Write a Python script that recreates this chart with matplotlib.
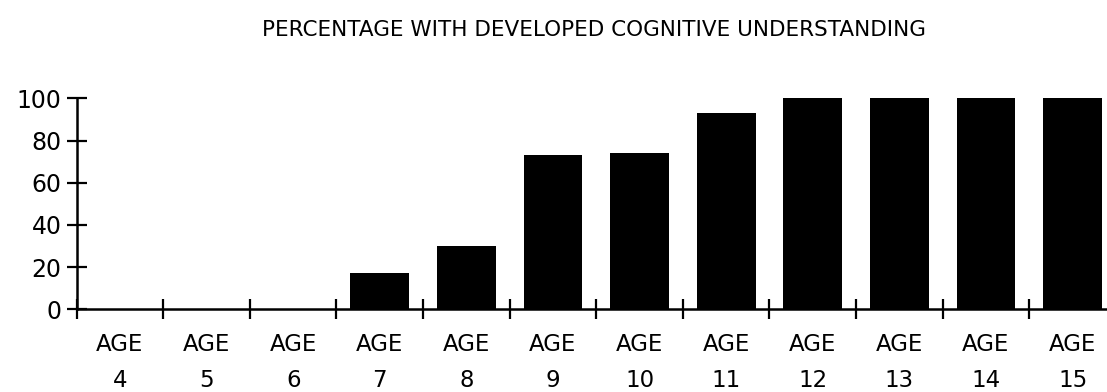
import matplotlib
matplotlib.use("Agg")
import matplotlib.pyplot as plt

ages = ["4", "5", "6", "7", "8", "9", "10", "11", "12", "13", "14", "15"]
percent = [0, 0, 0, 17, 30, 73, 74, 93, 100, 100, 100, 100]
yticks = [0, 20, 40, 60, 80, 100]
title = "PERCENTAGE WITH DEVELOPED COGNITIVE UNDERSTANDING"

plt.rcParams["font.family"] = ["DejaVu Sans"]

fig = plt.figure(figsize=(11.07, 3.92), dpi=100)
ax = fig.add_axes([76.7 / 1107, 82.7 / 392, 12 * 86.6 / 1107, 211 / 392])

x = list(range(len(ages)))
ax.bar(x, percent, width=0.68, color="black", zorder=3)

ax.set_xlim(-0.5, len(ages) - 0.5)
ax.set_ylim(0, 100)
for s in ["top", "right"]:
    ax.spines[s].set_visible(False)
for s in ["left", "bottom"]:
    ax.spines[s].set_linewidth(1.8)
    ax.spines[s].set_clip_on(False)

ax.set_yticks(yticks)
ax.set_yticklabels([str(v) for v in yticks], fontsize=17)
ax.tick_params(axis="y", direction="inout", length=13.7, width=1.6, pad=4.0)

bounds = [i - 0.5 for i in range(len(ages))]
ax.set_xticks(bounds)
ax.set_xticklabels([""] * len(bounds))
ax.tick_params(axis="x", which="major", direction="inout", length=13.7, width=1.6)
ax.set_xticks(x, minor=True)
ax.set_xticklabels(["AGE\n" + a for a in ages], minor=True, fontsize=16.5, linespacing=1.72)
ax.tick_params(axis="x", which="minor", length=0, pad=17)

fig.text(593.5 / 1107, 1 - 30 / 392, title, ha="center", va="center", fontsize=15.5)

fig.savefig("out.png", dpi=100)
